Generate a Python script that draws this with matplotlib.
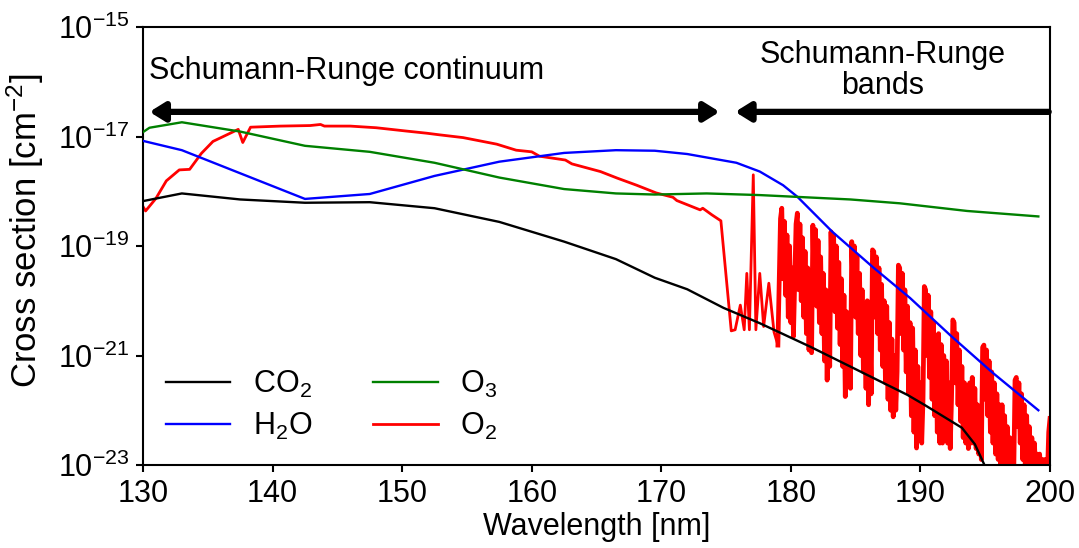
import numpy as np
import matplotlib
matplotlib.use("Agg")
import matplotlib.pyplot as plt

plt.rcParams['font.family'] = ['Liberation Sans', 'DejaVu Sans']
plt.rcParams['mathtext.fontset'] = 'custom'
plt.rcParams['mathtext.rm'] = 'Liberation Sans'
plt.rcParams['mathtext.it'] = 'Liberation Sans:italic'
plt.rcParams['mathtext.bf'] = 'Liberation Sans:bold'
plt.rcParams['axes.unicode_minus'] = True

# ---------------- data (log10 of cross section in cm^2) ----------------
co2_wl = [130.0, 133.0, 137.5, 142.5, 147.5, 152.5, 157.5, 162.5, 166.5, 169.5,
          172.0, 174.8, 177.6, 181.5, 185.0, 189.0, 190.3, 193.2, 194.2, 195.0, 195.4]
co2_log = [-18.18, -18.04, -18.15, -18.21, -18.20, -18.31, -18.56, -18.92, -19.24, -19.58,
           -19.79, -20.13, -20.41, -20.84, -21.25, -21.72, -21.90, -22.32, -22.62, -23.03, -23.30]

h2o_wl = [130.0, 133.0, 142.5, 147.5, 152.5, 157.5, 162.5, 166.5, 169.5, 172.0,
          175.8, 177.6, 179.4, 180.5, 183.2, 186.3, 189.2, 192.3, 195.6, 199.1]
h2o_log = [-17.08, -17.25, -18.14, -18.05, -17.72, -17.46, -17.30, -17.25, -17.26, -17.32,
           -17.48, -17.64, -17.89, -18.10, -18.74, -19.38, -19.95, -20.63, -21.32, -22.00]

o3_wl = [130.0, 130.5, 133.0, 137.5, 142.5, 147.5, 152.5, 157.5, 162.5, 166.5,
         169.5, 173.5, 177.6, 184.6, 188.4, 193.6, 199.1]
o3_log = [-16.92, -16.84, -16.74, -16.91, -17.17, -17.28, -17.48, -17.75, -17.96, -18.04,
          -18.06, -18.04, -18.07, -18.15, -18.22, -18.36, -18.46]

# O2: continuum part (irregular sampling)
o2_cont_wl = [130.0, 130.2, 131.0, 131.8, 132.8, 133.6, 134.5, 135.4, 137.35, 137.7,
              138.3, 140.6, 142.9, 143.7, 144.0, 146.0, 148.0, 150.3, 151.9, 152.9,
              154.7, 157.3, 158.8, 160.0, 160.6, 162.6, 163.1, 165.3, 166.6, 168.1,
              169.6, 170.9, 171.2, 173.0, 173.2, 173.9, 174.6, 175.4, 175.7, 176.1,
              176.4, 176.6, 176.8, 177.1, 177.3, 177.6, 177.9, 178.3, 178.7, 179.0]
o2_cont_log = [-18.28, -18.36, -18.13, -17.81, -17.61, -17.60, -17.31, -17.09, -16.87, -17.11,
               -16.83, -16.81, -16.80, -16.78, -16.81, -16.81, -16.84, -16.90, -16.94, -16.97,
               -17.02, -17.14, -17.25, -17.28, -17.36, -17.43, -17.50, -17.64, -17.76, -17.89,
               -18.03, -18.11, -18.17, -18.34, -18.31, -18.43, -18.54, -20.55, -20.53, -20.08,
               -20.53, -19.50, -20.53, -17.70, -20.53, -19.50, -20.47, -19.68, -20.57, -20.81]

# O2: Schumann-Runge bands, each band sampled every 0.1 nm from its start
o2_band_start = [179.2, 180.4, 181.7, 183.1, 184.7, 186.3, 188.3, 190.3, 192.5, 194.8, 197.3]
o2_band_log = [
    [-18.50, -18.31, -19.60, -18.55, -19.90, -18.80, -20.30, -19.00, -20.40, -19.40, -20.65, -19.60],
    [-18.60, -18.40, -19.80, -18.60, -20.00, -18.85, -20.30, -19.10, -20.60, -19.40, -20.90, -19.70, -20.95],
    [-18.62, -19.90, -18.70, -20.10, -18.90, -20.40, -19.20, -20.60, -19.50, -21.10, -19.80, -21.45, -20.10, -21.20],
    [-18.74, -19.90, -18.80, -20.20, -19.00, -20.50, -19.30, -20.80, -19.60, -21.20, -19.90, -21.75, -20.20, -21.40,
     -20.50, -21.60],
    [-18.92, -19.90, -19.00, -20.30, -19.20, -20.60, -19.50, -21.00, -19.80, -21.30, -20.10, -21.60, -20.00, -21.90,
     -20.40, -21.70],
    [-19.07, -19.10, -20.30, -19.20, -20.60, -19.40, -20.90, -19.70, -21.20, -20.00, -21.50, -20.10, -21.80, -20.40,
     -22.00, -20.70, -22.12, -21.00, -22.00, -21.30],
    [-19.35, -19.40, -20.60, -19.50, -20.90, -19.80, -21.30, -20.10, -21.70, -20.40, -22.10, -20.50, -22.40, -20.90,
     -22.69, -21.20, -22.50, -21.50, -22.60, -21.80],
    [-19.74, -19.80, -21.00, -19.90, -21.40, -20.20, -21.80, -20.40, -22.10, -20.70, -22.40, -20.60, -22.60, -20.80,
     -22.60, -21.00, -22.50, -21.10, -22.60, -21.50, -22.70, -21.80],
    [-20.35, -20.40, -21.50, -20.60, -21.90, -20.90, -22.20, -21.20, -22.50, -21.50, -22.60, -21.60, -22.70, -21.50,
     -22.60, -21.40, -22.60, -21.60, -22.70, -21.90, -22.80, -22.10, -22.90],
    [-20.85, -20.81, -21.80, -20.90, -22.10, -21.10, -22.40, -21.30, -22.60, -21.50, -22.80, -21.70, -22.90, -21.90,
     -23.20, -21.90, -23.20, -22.10, -23.20, -22.30, -23.20, -22.50, -23.20, -22.70, -23.20],
    [-21.45, -21.40, -22.30, -21.50, -22.60, -21.70, -22.90, -21.90, -23.20, -22.10, -23.20, -22.30, -23.20, -22.50,
     -23.20, -22.60, -23.20, -22.80, -23.20, -22.80, -23.20, -22.90, -23.20, -22.90, -23.20, -23.20, -22.40, -22.15],
]

x_ticks = [130, 140, 150, 160, 170, 180, 190, 200]
y_ticks = [1e-23, 1e-21, 1e-19, 1e-17, 1e-15]

# ---------------- build O2 band series ----------------
band_wl = [o2_cont_wl[-1]]
band_vals = [o2_cont_log[-1]]
for start, vals in zip(o2_band_start, o2_band_log):
    for i, v in enumerate(vals):
        band_wl.append(round(start + 0.1 * i, 2))
        band_vals.append(v)

def p10(a):
    return 10.0 ** np.asarray(a)

FS = 22
fig = plt.figure(figsize=(10.79, 5.48), dpi=100)
ax = fig.add_axes([143 / 1079, 1 - 465 / 548, (1050 - 143) / 1079, (465 - 27) / 548])

lw = 1.7
l_co2, = ax.plot(co2_wl, p10(co2_log), color='black', lw=lw, label='CO$_2$', zorder=3)
l_h2o, = ax.plot(h2o_wl, p10(h2o_log), color='blue', lw=lw, label='H$_2$O', zorder=3)
l_o3, = ax.plot(o3_wl, p10(o3_log), color='green', lw=lw, label='O$_3$', zorder=3)
l_o2, = ax.plot(o2_cont_wl, p10(o2_cont_log), color='red', lw=2.0, label='O$_2$', zorder=2)
ax.plot(band_wl, p10(band_vals), color='red', lw=3.4, zorder=2, solid_joinstyle='round')

ax.set_yscale('log')
ax.set_xlim(130, 200)
ax.set_ylim(1e-23, 1e-15)
ax.set_xticks(x_ticks)
ax.set_yticks(y_ticks)
ax.yaxis.set_minor_locator(matplotlib.ticker.NullLocator())
ax.tick_params(axis='both', which='major', labelsize=FS, direction='out', length=5, width=1.5, pad=5)
for s in ax.spines.values():
    s.set_linewidth(1.5)

ax.set_xlabel('Wavelength [nm]', fontsize=FS, labelpad=2)
ax.set_ylabel('Cross section [cm$^{-2}$]', fontsize=25)
ax.yaxis.set_label_coords(-0.107, 0.535)

# arrows
arrow_y = 10 ** -16.55
ax.annotate('', xy=(130.5, arrow_y), xytext=(174.5, arrow_y),
            arrowprops=dict(arrowstyle='<|-|>,head_length=0.45,head_width=0.28', lw=4.5,
                            color='black', shrinkA=0, shrinkB=0, mutation_scale=20),
            annotation_clip=False)
ax.annotate('', xy=(175.7, arrow_y), xytext=(199.9, arrow_y),
            arrowprops=dict(arrowstyle='-|>,head_length=0.45,head_width=0.28', lw=4.5,
                            color='black', shrinkA=0, shrinkB=0, mutation_scale=20,
                            capstyle='round'),
            annotation_clip=False)

ax.text(130.5, 10 ** -15.80, 'Schumann-Runge continuum', fontsize=FS, ha='left', va='center')
ax.text(187.1, 10 ** -15.79, 'Schumann-Runge\nbands', fontsize=FS, ha='center', va='center',
        linespacing=1.05)

ax.legend(handles=[l_co2, l_h2o, l_o3, l_o2], loc='lower left', ncol=2, frameon=False,
          fontsize=FS, handlelength=2.1, handletextpad=0.75, columnspacing=2.0,
          labelspacing=0.35, borderaxespad=0.35)

fig.savefig('out.png', dpi=100)
